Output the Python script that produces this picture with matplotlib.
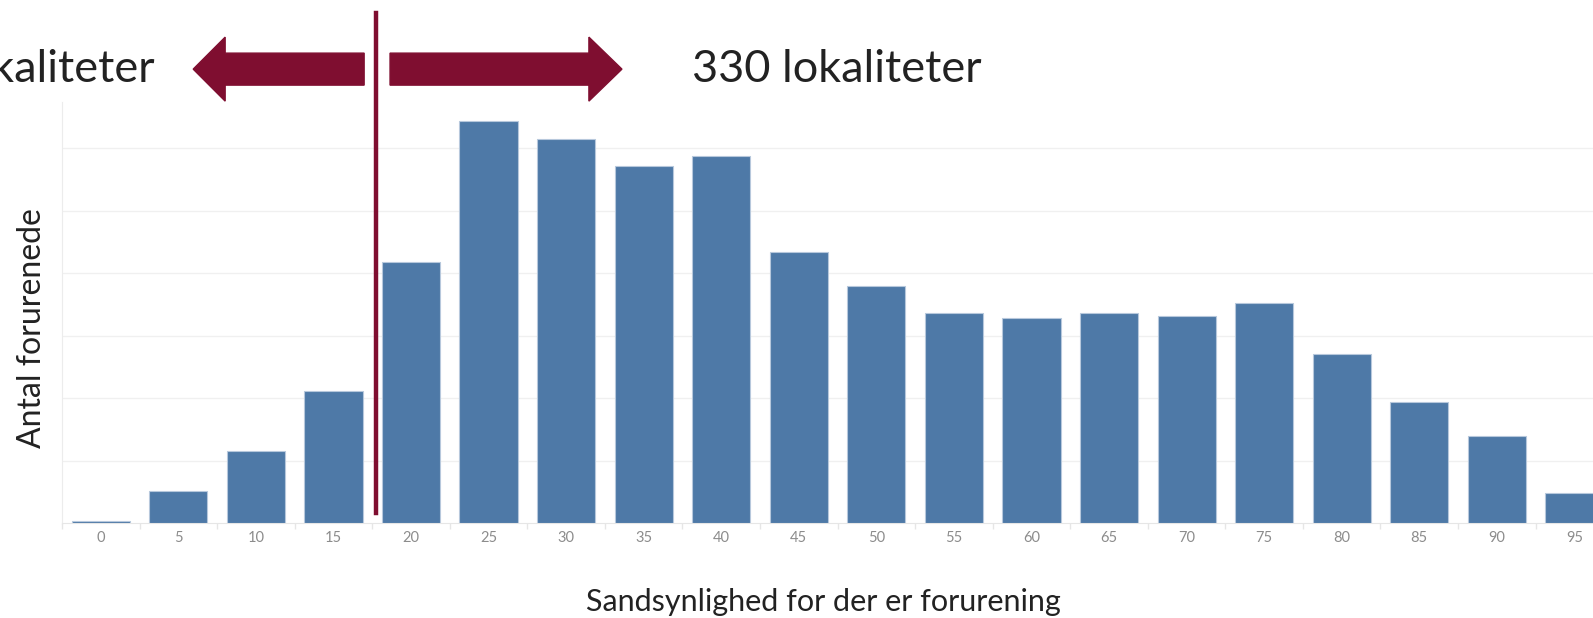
import matplotlib
matplotlib.use("Agg")
import matplotlib.pyplot as plt
from matplotlib.patches import FancyArrow

# sandsynlighed (%) og antal forurenede lokaliteter
categories = [0, 5, 10, 15, 20, 25, 30, 35, 40, 45, 50, 55, 60, 65, 70, 75, 80, 85, 90, 95]
counts = [0.15, 2.6, 5.8, 10.6, 20.9, 32.2, 30.7, 28.6, 29.4, 21.7,
          19.0, 16.8, 16.4, 16.8, 16.6, 17.6, 13.5, 9.7, 7.0, 2.4]
tick_labels = [str(c) for c in categories]
left_text = "21 lokaliteter"
right_text = "330 lokaliteter"
cutoff = 17.75

bar_color = "#4e79a7"
accent = "#7f0e30"

plt.rcParams['font.family'] = ['Lato', 'DejaVu Sans']

fig = plt.figure(figsize=(15.93, 6.18), dpi=100)
ax = fig.add_axes([0.0389, 0.1537, 1 - 0.0389, 0.835 - 0.1537])

ax.bar(categories, counts, width=3.75, color=bar_color, edgecolor="#b7c8dc", linewidth=0.8, zorder=3)

ax.set_xlim(-2.48, 96.2)
ax.set_ylim(0, 33.7)
ax.set_yticks([5, 10, 15, 20, 25, 30])
ax.set_yticklabels([])
ax.tick_params(axis='y', length=0)
ax.grid(axis='y', color='#f0f0f0', linewidth=1, zorder=0)

ax.set_xticks(categories)
ax.set_xticklabels(tick_labels, fontsize=10.5, color='#8c8c8c')
ax.tick_params(axis='x', length=0, pad=6)
# små skillestreger mellem kategorierne
ax.set_xticks([c - 2.5 for c in categories], minor=True)
ax.tick_params(axis='x', which='minor', length=4, color='#e6e6e6', width=1)

for s in ['top', 'right']:
    ax.spines[s].set_visible(False)
ax.spines['left'].set_color('#ececec')
ax.spines['bottom'].set_color('#e6e6e6')

ax.set_ylabel("Antal forurenede", fontsize=23, color='#222222')
ax.set_xlabel("Sandsynlighed for der er forurening", fontsize=22, color='#222222')
ax.yaxis.set_label_coords(-0.0095, 0.462)
ax.xaxis.set_label_coords(0.497, -0.155)

tr = ax.get_xaxis_transform()
ax.plot([cutoff, cutoff], [0.024, 1.211], color=accent, linewidth=3.2, transform=tr, clip_on=False, zorder=5)

ax.add_patch(FancyArrow(16.98, 1.078, 5.96 - 16.98, 0, width=0.076, head_width=0.152,
                        head_length=2.06, length_includes_head=True, color=accent,
                        transform=tr, clip_on=False, zorder=5))
ax.add_patch(FancyArrow(18.65, 1.078, 33.6 - 18.65, 0, width=0.076, head_width=0.152,
                        head_length=2.13, length_includes_head=True, color=accent,
                        transform=tr, clip_on=False, zorder=5))

ax.text(38.1, 1.078, right_text, transform=tr, ha='left', va='center', fontsize=32.5, color='#222222')
ax.text(3.45, 1.078, left_text, transform=tr, ha='right', va='center', fontsize=32.5, color='#222222')

fig.savefig("out.png", dpi=100)
